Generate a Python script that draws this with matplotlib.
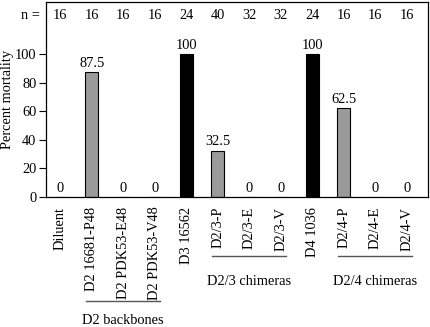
import matplotlib
matplotlib.use("Agg")
import matplotlib.pyplot as plt

# values
labels = ["Diluent", "D2 16681-P48", "D2 PDK53-E48", "D2 PDK53-V48", "D3 16562",
          "D2/3-P", "D2/3-E", "D2/3-V", "D4 1036", "D2/4-P", "D2/4-E", "D2/4-V"]
mortality = [0, 87.5, 0, 0, 100, 32.5, 0, 0, 100, 62.5, 0, 0]
value_text = ["0", "87.5", "0", "0", "100", "32.5", "0", "0", "100", "62.5", "0", "0"]
n_mice = [16, 16, 16, 16, 24, 40, 32, 32, 24, 16, 16, 16]
wildtype = [False, False, False, False, True, False, False, False, True, False, False, False]
groups = [("D2 backbones", 1, 3), ("D2/3 chimeras", 5, 7), ("D2/4 chimeras", 9, 11)]
yticks = [0, 20, 40, 60, 80, 100]

plt.rcParams["font.family"] = ["Liberation Serif", "DejaVu Serif"]
plt.rcParams["font.size"] = 10.4

fig = plt.figure(figsize=(4.31, 3.27), dpi=100)
ax = fig.add_axes([0.1067, 0.3976, 0.8863, 0.5963])

x = list(range(len(labels)))
colors = ["black" if w else "#9a9a9a" for w in wildtype]
ax.bar(x, mortality, width=0.42, color=colors, edgecolor="black", linewidth=0.8)

for xi, v, t in zip(x, mortality, value_text):
    ax.text(xi, v + 1.5, t, ha="center", va="bottom")

ax.set_xlim(-0.45, 11.67)
ax.set_ylim(0, 136.5)
ax.set_yticks(yticks)
ax.set_ylabel("Percent mortality")
ax.yaxis.set_label_coords(-0.083, 0.5)
ax.tick_params(axis="y", direction="out", length=5, width=0.8, pad=2)
ax.set_xticks(x)
ax.set_xticklabels(labels, rotation=90, va="top")
ax.tick_params(axis="x", length=0, pad=7)
for s in ax.spines.values():
    s.set_linewidth(0.9)

# n = row above the bars
tr = ax.get_xaxis_transform()
ax.text(-0.45 - 0.2, 0.933, "n =", transform=tr, ha="right", va="center", clip_on=False)
for xi, n in zip(x, n_mice):
    ax.text(xi, 0.933, str(n), transform=tr, ha="center", va="center")

# group brackets under the tick labels
for name, a, b in groups:
    y_line = -0.533 if a == 1 else -0.303
    y_text = -0.636 if a == 1 else -0.431
    ax.plot([a - 0.17, b + 0.17], [y_line, y_line], transform=tr, color="#555555",
            linewidth=1.0, clip_on=False)
    ax.text((a + b) / 2, y_text, name, transform=tr, ha="center", va="center")

fig.savefig("out.png", dpi=100)
